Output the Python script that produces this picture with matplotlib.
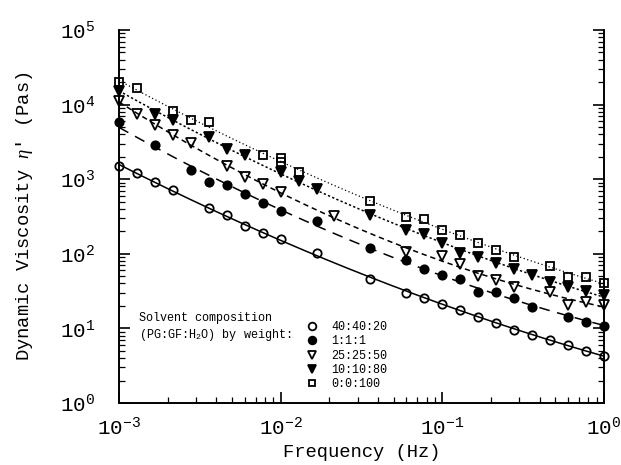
import numpy as np
import matplotlib
matplotlib.use('Agg')
import matplotlib.pyplot as plt
from matplotlib.lines import Line2D

plt.rcParams['font.family'] = ['Liberation Mono', 'DejaVu Sans Mono']
plt.rcParams['mathtext.fontset'] = 'custom'
plt.rcParams['mathtext.rm'] = 'Liberation Mono'
plt.rcParams['mathtext.it'] = 'Liberation Serif:italic'

# frequencies (Hz) and dynamic viscosity (Pas)
f_404020 = [0.001, 0.0013, 0.00167, 0.00215, 0.00359, 0.00464, 0.00599, 0.00774, 0.01, 0.0167,
            0.0359, 0.0599, 0.0774, 0.1, 0.129, 0.167, 0.215, 0.278, 0.359, 0.464, 0.599, 0.774, 1.0]
eta_404020 = [1486, 1211, 906, 708, 410, 327, 238, 193, 157, 102,
              45.7, 30.2, 25.4, 21.3, 17.7, 14.4, 11.7, 9.55, 8.18, 7.01, 6.01, 5.04, 4.27]

f_111 = [0.001, 0.00167, 0.00278, 0.00359, 0.00464, 0.00599, 0.00774, 0.01, 0.0167, 0.0359,
         0.0599, 0.0774, 0.1, 0.129, 0.167, 0.215, 0.278, 0.359, 0.599, 0.774, 1.0]
eta_111 = [5785, 2904, 1342, 906, 844, 638, 479, 370, 277, 119,
           83, 62.3, 52.3, 45.8, 30.3, 30.3, 25.4, 19.6, 14.4, 12.3, 10.8]

f_252550 = [0.001, 0.0013, 0.00167, 0.00215, 0.00278, 0.00464, 0.00599, 0.00774, 0.01, 0.0215,
            0.0599, 0.1, 0.129, 0.167, 0.215, 0.278, 0.464, 0.599, 0.774, 1.0]
eta_252550 = [11070, 7570, 5390, 3875, 3062, 1486, 1071, 871, 665, 317,
              107, 94, 73.5, 50.7, 44.8, 36.4, 31.2, 20.7, 22.9, 20.7]

f_101080 = [0.001, 0.00167, 0.00215, 0.00359, 0.00464, 0.00599, 0.01, 0.0129, 0.0167, 0.0359,
            0.0599, 0.0774, 0.1, 0.129, 0.167, 0.215, 0.278, 0.359, 0.464, 0.599, 0.774, 1.0]
eta_101080 = [15090, 7570, 6290, 3717, 2541, 2133, 1234, 934, 738, 334,
              210, 185, 141, 104, 92, 76.4, 62.3, 52.3, 42.5, 35.7, 32.2, 28.2]

f_00100 = [0.001, 0.0013, 0.00215, 0.00278, 0.00359, 0.00774, 0.01, 0.01, 0.0129, 0.0359,
           0.0599, 0.0774, 0.1, 0.129, 0.167, 0.215, 0.278, 0.464, 0.599, 0.774, 1.0]
eta_00100 = [19920, 16750, 8130, 6150, 5785, 2133, 1944, 1690, 1249, 504,
             311, 292, 210, 180, 139, 113, 92, 69, 49.6, 49.6, 41.2]

labels = ['40:40:20', '1:1:1', '25:25:50', '10:10:80', '0:0:100']

series = [
    (f_404020, eta_404020, 'o', 'none', 6, '-'),
    (f_111, eta_111, 'o', 'black', 6, (0, (7, 5))),
    (f_252550, eta_252550, 'v', 'none', 6.5, (0, (3.5, 2.5))),
    (f_101080, eta_101080, 'v', 'black', 6.5, (0, (1.5, 1.5))),
    (f_00100, eta_00100, 's', 'none', 5.5, (0, (1, 2))),
]

fig = plt.figure(figsize=(6.21, 4.65), dpi=100)
ax = fig.add_axes([0.1916, 0.1333, 0.7810, 0.8022])

handles = []
fgrid = np.logspace(-3, 0, 200)
for (fx, ey, mk, fc, ms, ls), lab in zip(series, labels):
    lx = np.log10(fx)
    ly = np.log10(ey)
    # smooth fitted curve through the measured points (log-log)
    c = np.polyfit(lx, ly, 2)
    ax.plot(fgrid, 10 ** np.polyval(c, np.log10(fgrid)), color='black',
            lw=1.1 if ls != (0, (1, 2)) else 0.9, linestyle=ls, zorder=2)
    ax.plot(fx, ey, linestyle='none', marker=mk, ms=ms, mfc=fc, mec='black',
            mew=1.3, zorder=3, clip_on=False)
    handles.append(Line2D([], [], linestyle='none', marker=mk, ms=ms - 0.5,
                          mfc=fc, mec='black', mew=1.3))

ax.set_xscale('log')
ax.set_yscale('log')
ax.set_xlim(1e-3, 1)
ax.set_ylim(1, 1e5)

ax.spines['top'].set_visible(False)
for s in ['left', 'right', 'bottom']:
    ax.spines[s].set_linewidth(1.4)

ax.tick_params(which='both', direction='in', right=True, top=False)
ax.tick_params(which='major', length=8, width=1.2, labelsize=15)
ax.tick_params(axis='x', which='major', pad=10)
ax.tick_params(axis='y', which='major', pad=17)
ax.tick_params(which='minor', length=4, width=0.9)

ax.set_xlabel('Frequency (Hz)', fontsize=13.5, labelpad=3)
ax.set_ylabel("Dynamic Viscosity $\\eta$' (Pas)", fontsize=13.5, labelpad=18)

ax.text(0.041, 0.228, 'Solvent composition', transform=ax.transAxes,
        fontsize=8.5, va='center', ha='left')
ax.text(0.041, 0.182, '(PG:GF:H$_2$O) by weight:', transform=ax.transAxes,
        fontsize=8.5, va='center', ha='left')

ax.legend(handles, labels, loc='upper left', bbox_to_anchor=(0.384, 0.22),
          frameon=False, fontsize=8.5, handlelength=1.1, handletextpad=1.1,
          labelspacing=0.2, borderpad=0, borderaxespad=0)

fig.savefig('out.png', dpi=100)
